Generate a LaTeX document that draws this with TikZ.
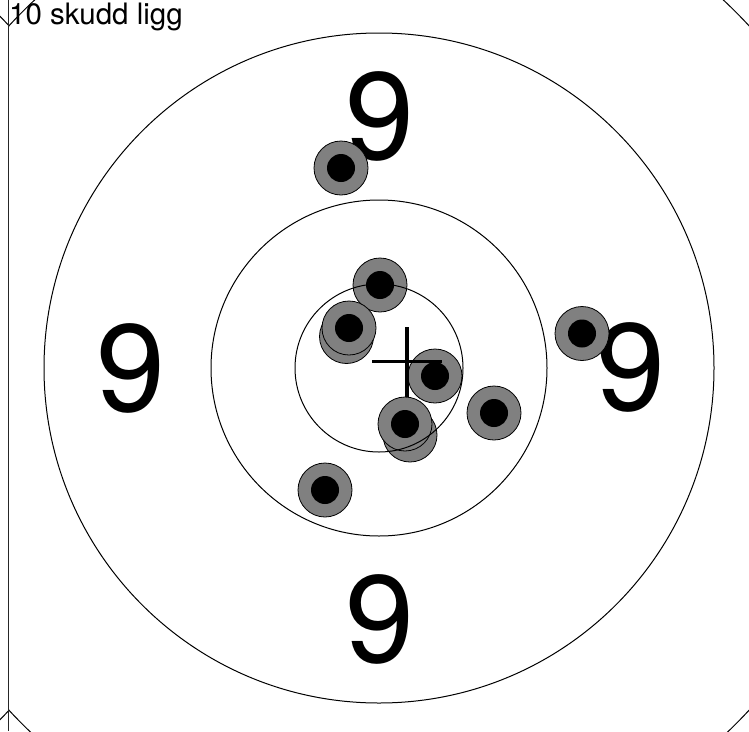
\documentclass[tikz,border=0pt]{standalone}
\usepackage{fontspec}
\setmainfont{TeX Gyre Heros}

\begin{document}
\begin{tikzpicture}[x=1pt,y=-1pt,
    ring/.style={line width=1pt},
    treff/.style={circle,draw=black,line width=0.8pt,fill=gray,minimum size=54pt,inner sep=0pt},
    kjerne/.style={circle,fill=black,minimum size=28pt,inner sep=0pt},
    ni/.style={font=\fontsize{124}{124}\selectfont,inner sep=0pt}]
    \useasboundingbox (0,0) rectangle (749,731);
    \clip (0,0) rectangle (749,731);

    \coordinate (midt) at (379,368);
    \coordinate (nabo) at (-361,368);

    % tallene
    \node[ni] (nitopp) at (379.5,116) {9};
    \node[ni] (nivenstre) at (130.5,368.5) {9};
    \node[ni] (nihoyre) at (630.5,367) {9};
    \node[ni] (nibunn) at (379.5,619) {9};

    % treffene
    \foreach \x/\y/\n in {341/168/a, 380/285/b, 346.5/336.5/c, 349/328/d, 435/376/e,
        410/435/f, 405/424/g, 494/413/h, 582/333.5/i, 325/490/j} {
        \node[treff] (\n) at (\x,\y) {};
        \node[kjerne] (k\n) at (\n) {};
    }

    % ringene
    \draw[ring] (midt) circle (84);
    \draw[ring] (midt) circle (168);
    \draw[ring] (midt) circle (335);
    \begin{scope}
        \clip (9,0) rectangle (749,731);
        \draw[ring] (midt) circle (504);
    \end{scope}
    \begin{scope}
        \clip (0,0) rectangle (9,731);
        \draw[ring] (nabo) circle (504);
    \end{scope}
    \draw[line width=1.7pt,black!85] (8.5,0) -- (8.5,731);

    % middeltreff
    \coordinate (snitt) at (407,361.5);
    \draw[line width=3.3pt] ([xshift=-35pt]snitt) -- ([xshift=35pt]snitt);
    \draw[line width=3.3pt] ([yshift=-35pt]snitt) -- ([yshift=35pt]snitt);

    \node[anchor=base west,inner sep=0pt,font=\fontsize{29.5}{29.5}\selectfont] (tittel) at (9,24.5) {10 skudd ligg};
\end{tikzpicture}
\end{document}
